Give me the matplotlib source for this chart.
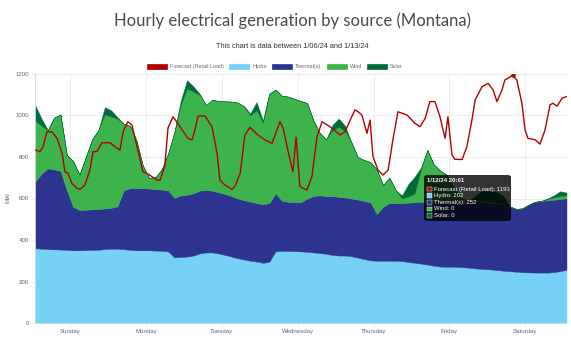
import matplotlib
matplotlib.use("Agg")
import matplotlib.pyplot as plt
from matplotlib.patches import Patch, FancyBboxPatch, Rectangle
import numpy as np
import pandas as pd

# ---------------- data ----------------
stack_start = "2024-01-06 13:00"   # 2-hourly samples
hydro = [360, 358, 356, 355, 354, 352, 350, 350, 351, 352, 353, 356,
         358, 358, 356, 352, 350, 350, 350, 349, 348, 345, 316, 318,
         320, 325, 335, 340, 340, 335, 328, 320, 312, 306, 300, 296,
         290, 295, 345, 348, 347, 346, 345, 343, 340, 337, 333, 328,
         325, 325, 322, 315, 308, 302, 300, 300, 300, 300, 298, 294,
         290, 286, 282, 276, 272, 271, 271, 270, 268, 265, 262, 260,
         258, 255, 252, 250, 247, 245, 244, 243, 243, 243, 245, 250,
         256]
thermal = [321, 362, 389, 385, 379, 288, 210, 195, 195, 196, 197, 196,
           197, 204, 284, 298, 300, 300, 298, 296, 295, 295, 287, 297,
           298, 300, 303, 301, 298, 295, 294, 292, 288, 286, 285, 282,
           282, 283, 280, 242, 237, 236, 237, 257, 272, 278, 279, 284,
           283, 280, 278, 280, 280, 280, 225, 260, 278, 278, 280, 286,
           292, 298, 303, 310, 314, 317, 319, 320, 322, 323, 323, 322,
           320, 320, 318, 312, 303, 307, 326, 341, 345, 349, 349, 348,
           345]
wind = [294, 230, 185, 250, 272, 170, 220, 170, 254, 337, 380, 453,
        440, 423, 320, 300, 230, 110, 52, 57, 97, 175, 317, 435,
        512, 490, 462, 409, 437, 440, 446, 455, 462, 453, 415, 447,
        393, 527, 500, 505, 507, 498, 488, 460, 363, 300, 273, 318,
        337, 320, 270, 205, 197, 193, 215, 105, 122, 62, 22, 30,
        43, 156, 249, 179, 149, 127, 70, 20, 2, 2, 7, 10,
        8, 5, 4, 0, 0, 0, 0, 0, 0, 6, 11, 14,
        14]
solar = [75, 35, 0, 0, 0, 0, 0, 0, 0, 0, 0, 35,
         30, 7, 0, 0, 0, 0, 0, 0, 0, 0, 0, 20,
         40, 25, 5, 0, 0, 0, 0, 0, 0, 0, 10, 40,
         10, 0, 0, 0, 0, 0, 0, 0, 0, 0, 0, 25,
         40, 25, 0, 0, 0, 0, 0, 0, 0, 0, 15, 60,
         80, 10, 0, 0, 0, 0, 0, 0, 0, 8, 33, 48,
         50, 50, 38, 0, 0, 0, 0, 0, 0, 2, 10, 23,
         13]

# forecast (retail load): hours after 2024-01-07 00:00, MW
fc_hours = [-11, -9.5, -8.5, -7.3, -5.7, -4.1, -2.5, -1.6, -0.6, 0.6,
            2.2, 3.2, 4.7, 6.3, 7.3, 8.5, 10.1, 12.6, 14.9, 15.8,
            16.8, 18.3, 19.6, 21.2, 23.1, 24.7, 27.5, 28.5, 30.0, 31.0,
            32.6, 34.1, 37.3, 38.6, 39.5, 40.5, 42.7, 44.9, 46.5, 47.4,
            49.0, 51.2, 52.2, 53.8, 55.3, 56.9, 59.4, 61.7, 63.9, 66.4,
            67.4, 69.0, 70.5, 71.5, 72.7, 74.9, 76.5, 78.1, 79.7, 82.2,
            85.4, 87.0, 87.9, 90.1, 91.1, 92.3, 93.9, 94.9, 95.8, 97.4,
            99.0, 100.6, 102.1, 103.7, 106.6, 109.1, 110.7, 112.3, 113.8, 115.4,
            117.0, 118.6, 119.5, 120.8, 121.7, 124.0, 125.5, 127.1, 128.1, 130.3,
            132.2, 133.8, 135.0, 136.6, 137.5, 140.0, 141.3, 142.9, 143.9, 144.8,
            147.1, 148.6, 150.2, 151.8, 152.7, 154.0, 155.6, 157.0]
fc_vals = [834, 826, 850, 922, 922, 890, 818, 729, 721, 673,
           649, 644, 665, 737, 826, 826, 869, 869, 842, 834,
           922, 970, 954, 850, 729, 718, 689, 688, 760, 940,
           994, 962, 890, 882, 930, 998, 998, 946, 818, 689,
           665, 644, 660, 721, 906, 943, 906, 882, 866, 970,
           938, 826, 729, 895, 657, 641, 705, 898, 970, 946,
           906, 922, 954, 1027, 1018, 1002, 914, 978, 802, 737,
           713, 737, 882, 1018, 1002, 962, 946, 986, 1067, 1067,
           994, 890, 994, 810, 789, 788, 850, 978, 1075, 1139,
           1155, 1123, 1067, 1123, 1171, 1193, 1171, 1059, 930, 890,
           883, 862, 930, 1051, 1059, 1045, 1083, 1091]

day_labels = ["Sunday", "Monday", "Tuesday", "Wednesday", "Thursday", "Friday", "Saturday"]
series_names = ["Forecast (Retail Load)", "Hydro", "Thermal(s)", "Wind", "Solar"]
colors = {"Forecast (Retail Load)": "#b50000", "Hydro": "#76d1f5", "Thermal(s)": "#2c3490",
          "Wind": "#3cb44b", "Solar": "#006b38"}

tooltip_title = "1/12/24 20:01"
tooltip_lines = ["Forecast (Retail Load): 1193", "Hydro: 202", "Thermal(s): 252", "Wind: 0", "Solar: 0"]
peak_hour, peak_val = 140.0, 1193

# ---------------- figure ----------------
W, H = 571, 340
fig = plt.figure(figsize=(W / 100, H / 100), dpi=100)
ax = fig.add_axes([35.2 / W, 17 / H, 531.3 / W, 249 / H])

t = pd.date_range(stack_start, periods=len(hydro), freq="2h")
base = pd.Timestamp("2024-01-07 00:00")
fc_t = [base + pd.Timedelta(hours=h) for h in fc_hours]

layers = [("Hydro", hydro), ("Thermal(s)", thermal), ("Wind", wind), ("Solar", solar)]
bottom = np.zeros(len(hydro))
for name, vals in layers:
    top = bottom + np.array(vals, dtype=float)
    ax.fill_between(t, bottom, top, facecolor=colors[name], edgecolor=colors[name],
                    linewidth=0.3, zorder=2)
    bottom = top

ax.plot(fc_t, fc_vals, color=colors["Forecast (Retail Load)"], lw=1.0, zorder=3,
        solid_joinstyle="round")
ax.plot([base + pd.Timedelta(hours=peak_hour)], [peak_val], "o", ms=2.6,
        color="#c00000", mec="#8a0000", mew=0.5, zorder=4)

ax.set_xlim(t[0], t[-1])
ax.set_ylim(0, 1200)
ax.set_yticks(range(0, 1201, 200))
ticks = pd.date_range("2024-01-07", periods=7, freq="D")
ax.set_xticks(ticks)
ax.set_xticklabels(day_labels)

for lab in ax.get_xticklabels() + ax.get_yticklabels():
    lab.set_fontfamily("Liberation Sans")
    lab.set_fontsize(4.4)
    lab.set_color("#666666")
ax.tick_params(axis="both", length=3, width=0.5, color="#e8e8e8", pad=1.5)
ax.grid(True, color="#e8e8e8", lw=0.6, zorder=0)
ax.set_axisbelow(True)
for s in ["top", "right"]:
    ax.spines[s].set_visible(False)
for s in ["left", "bottom"]:
    ax.spines[s].set_color("#d5d5d5")
    ax.spines[s].set_linewidth(0.6)

fig.text(8 / W, 1 - 198 / H, "MW", rotation=90, ha="center", va="center",
         fontsize=4.4, color="#666666", family="Liberation Sans")

# titles
fig.text(292 / W, 1 - 21 / H, "Hourly electrical generation by source (Montana)",
         ha="center", va="center", fontsize=12, color="#4a4a4a", family="Lato", weight="normal")
fig.text(292 / W, 1 - 47 / H, "This chart is data between 1/06/24 and 1/13/24",
         ha="center", va="center", fontsize=5.3, color="#333333", family="Liberation Sans")

# legend
handles = [Patch(facecolor=colors[n], edgecolor=colors[n], lw=0.5) for n in series_names]
leg = fig.legend(handles, series_names, loc="center", bbox_to_anchor=(275 / W, 1 - 66.7 / H),
                 ncol=5, frameon=False, prop=dict(family="Liberation Sans", size=3.9),
                 handlelength=3.7, handleheight=1.0, handletextpad=0.5, columnspacing=1.0,
                 borderpad=0, borderaxespad=0)
for txt in leg.get_texts():
    txt.set_color("#666666")

# tooltip
bx, by, bw, bh = 424 / W, 119 / H, 87 / W, 46 / H
fig.patches.append(FancyBboxPatch((bx, by), bw, bh, boxstyle="round,pad=0,rounding_size=0.006",
                                  transform=fig.transFigure, facecolor="black", edgecolor="none",
                                  alpha=0.8, zorder=10))
fig.text(427 / W, 1 - 180 / H, tooltip_title, ha="left", va="center", fontsize=4.3,
         color="white", weight="bold", family="Liberation Sans", zorder=11)
row_y = [189, 195.7, 202.3, 209, 215.7]
for name, line, yy in zip(series_names, tooltip_lines, row_y):
    fig.patches.append(Rectangle((427 / W, 1 - (yy + 2.3) / H), 4.6 / W, 4.6 / H,
                                 transform=fig.transFigure, facecolor=colors[name],
                                 edgecolor="white", lw=0.3, zorder=11))
    fig.text(434 / W, 1 - yy / H, line, ha="left", va="center", fontsize=4.3,
             color="white", family="Liberation Sans", zorder=11)

fig.savefig("out.png", dpi=100)
